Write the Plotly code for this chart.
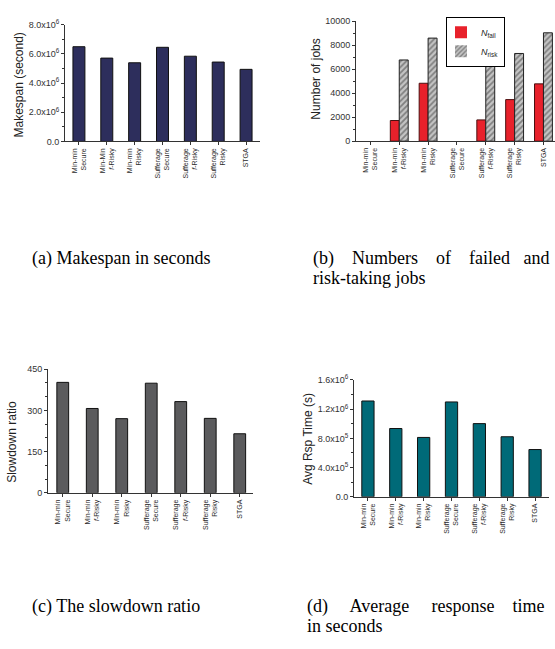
import plotly.graph_objects as go

W, H = 555, 649

# ---------------- data ----------------
cats_a = ["Min-min<br>Secure", "Min-Min<br><i>f</i>-Risky", "Min-min<br>Risky",
          "Sufferage<br>Secure", "Sufferage<br><i>f</i>-Risky", "Sufferage<br>Risky", "STGA"]
cats = ["Min-min<br>Secure", "Min-min<br><i>f</i>-Risky", "Min-min<br>Risky",
        "Sufferage<br>Secure", "Sufferage<br><i>f</i>-Risky", "Sufferage<br>Risky", "STGA"]

makespan = [6.49e6, 5.71e6, 5.39e6, 6.45e6, 5.84e6, 5.44e6, 4.94e6]
n_fail = [0, 1720, 4820, 0, 1770, 3460, 4770]
n_risk = [0, 6760, 8580, 0, 6810, 7300, 9020]
slowdown = [402, 307, 270, 399, 332, 271, 215]
avg_rsp = [1.312e6, 0.935e6, 0.813e6, 1.299e6, 1.002e6, 0.822e6, 0.647e6]

ticks_a = [0, 2e6, 4e6, 6e6, 8e6]
ticktext_a = ["0.0", "2.0x10<sup>6</sup>", "4.0x10<sup>6</sup>", "6.0x10<sup>6</sup>", "8.0x10<sup>6</sup>"]
ticks_b = [0, 2000, 4000, 6000, 8000, 10000]
ticks_c = [0, 150, 300, 450]
ticks_d = [0, 4e5, 8e5, 1.2e6, 1.6e6]
ticktext_d = ["0.0", "4.0x10<sup>5</sup>", "8.0x10<sup>5</sup>", "1.2x10<sup>6</sup>", "1.6x10<sup>6</sup>"]

# ---------------- figure ----------------
fig = go.Figure()


def outline_widths(vals):
    # no outline for empty (zero) bars, as in the reference
    return [0 if v == 0 else 1 for v in vals]


fig.add_trace(go.Bar(x=cats_a, y=makespan, width=0.43, showlegend=False,
                     marker=dict(color="#2d2e5c", line=dict(color="#111111", width=1)),
                     xaxis="x", yaxis="y"))
fig.add_trace(go.Bar(x=cats, y=n_fail, width=0.31, offset=-0.31, name="<i>N</i><sub>fail</sub>",
                     marker=dict(color="#e8212b",
                                 line=dict(color="#4a1010", width=outline_widths(n_fail))),
                     xaxis="x2", yaxis="y2"))
fig.add_trace(go.Bar(x=cats, y=n_risk, width=0.31, offset=0.0, name="<i>N</i><sub>risk</sub>",
                     marker=dict(color="#c4c4c4",
                                 pattern=dict(shape="/", fgcolor="#3a3a3a", bgcolor="#c4c4c4",
                                              size=4, solidity=0.45),
                                 line=dict(color="#222222", width=outline_widths(n_risk))),
                     xaxis="x2", yaxis="y2"))
fig.add_trace(go.Bar(x=cats, y=slowdown, width=0.4, showlegend=False,
                     marker=dict(color="#5b5b5d", line=dict(color="#111111", width=1)),
                     xaxis="x3", yaxis="y3"))
fig.add_trace(go.Bar(x=cats, y=avg_rsp, width=0.44, showlegend=False,
                     marker=dict(color="#006a78", line=dict(color="#111111", width=1)),
                     xaxis="x4", yaxis="y4"))

tick_font = dict(family="Liberation Sans, Arial", size=7, color="#2a2a2a")
ytick_font = dict(family="Liberation Sans, Arial", size=9, color="#333333")


def xax(domain, rng, anchor):
    return dict(domain=domain, anchor=anchor, type="category", range=rng,
                showline=True, linecolor="#333333", linewidth=1,
                ticks="outside", ticklen=3, tickcolor="#333333",
                tickangle=-90, tickfont=tick_font, showgrid=False, zeroline=False)


def yax(domain, rng, anchor, tickvals, ticktext, minor_dtick):
    return dict(domain=domain, anchor=anchor, range=rng,
                showline=True, linecolor="#333333", linewidth=1,
                ticks="outside", ticklen=3, tickcolor="#333333",
                tickmode="array", tickvals=tickvals, ticktext=ticktext,
                tickfont=ytick_font, showgrid=False, zeroline=False,
                minor=dict(ticks="outside", ticklen=2, tickcolor="#333333",
                           dtick=minor_dtick, tick0=0, showgrid=False))


def px(x):
    return x / W


def py(y):
    return 1 - y / H


fig.update_layout(
    width=W, height=H, margin=dict(l=0, r=0, t=0, b=0),
    paper_bgcolor="white", plot_bgcolor="white",
    barmode="group",
    xaxis=xax([px(65), px(260)], [-0.5, 6.5], "y"),
    yaxis=yax([py(137), py(18)], [0, 8e6], "x", ticks_a, ticktext_a, 1e6),
    xaxis2=xax([px(356), px(555)], [-0.5, 6.4], "y2"),
    yaxis2=yax([py(136.7), py(14.3)], [0, 10000], "x2", ticks_b, [str(v) for v in ticks_b], 1000),
    xaxis3=xax([px(48), px(253)], [-0.5, 6.45], "y3"),
    yaxis3=yax([py(495), py(369)], [0, 450], "x3", ticks_c, [str(v) for v in ticks_c], 50),
    xaxis4=xax([px(354), px(549)], [-0.5, 6.5], "y4"),
    yaxis4=yax([py(499), py(380)], [0, 1.6e6], "x4", ticks_d, ticktext_d, 2e5),
    legend=dict(x=px(446), y=py(10), xanchor="left", yanchor="top",
                bordercolor="#000000", borderwidth=1, bgcolor="white",
                font=dict(family="Liberation Sans, Arial", size=9, color="#222222"),
                tracegroupgap=0, itemwidth=30, indentation=-6),
    showlegend=True,
)

title_font = dict(family="Liberation Sans, Arial", size=12, color="#222222")
for text, x, y in [("Makespan (second)", 19, 80), ("Number of jobs", 316, 74),
                   ("Slowdown ratio", 12, 443), ("Avg Rsp Time (s)", 308, 440)]:
    fig.add_annotation(text=text, x=px(x), y=py(y), xref="paper", yref="paper",
                       textangle=-90, showarrow=False, xanchor="center", yanchor="middle",
                       font=title_font)

cap_font = dict(family="Liberation Serif, Times New Roman, serif", size=18, color="#000000")
captions = [
    ("(a) Makespan in seconds", 31, 256),
    ("(b)    Numbers    of    failed   and", 312, 256),
    ("risk-taking jobs", 312, 276),
    ("(c) The slowdown ratio", 31, 611),
    ("(d)     Average     response    time", 306, 611),
    ("in seconds", 306, 631),
]
for text, x, y in captions:
    fig.add_annotation(text=text, x=px(x), y=py(y), xref="paper", yref="paper",
                       showarrow=False, xanchor="left", yanchor="middle", font=cap_font,
                       borderpad=0)

fig.write_html("out.html")
